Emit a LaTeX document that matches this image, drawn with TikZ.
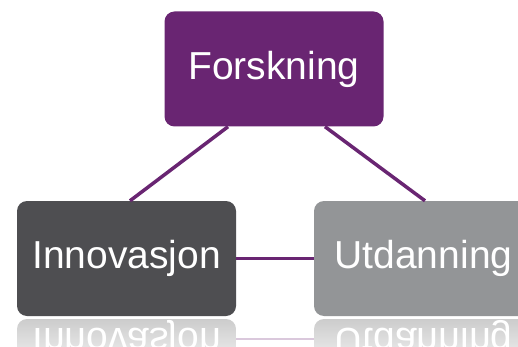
\documentclass[tikz,border=0pt]{standalone}
\usepackage{fontspec}
\setmainfont{Liberation Sans}
\usetikzlibrary{positioning,calc}
\definecolor{forskpurple}{HTML}{692572}
\definecolor{innovgray}{HTML}{4E4E51}
\definecolor{utdgray}{HTML}{939597}
\tikzset{
  box/.style={rounded corners=10pt,minimum width=219pt,minimum height=115pt,
    text=white,font=\fontsize{39}{42}\selectfont,inner sep=0pt},
  link/.style={draw=forskpurple,line width=3.5pt},
  mirror/.style={yscale=-1,anchor=base,text=white,font=\fontsize{39}{42}\selectfont,inner sep=0pt}
}
\begin{document}
\begin{tikzpicture}[x=1pt,y=-1pt]
 \useasboundingbox (0,0) rectangle (518,347);
 \clip (0,0) rectangle (518,347);
 \fill[white] (0,0) rectangle (518,347);
 \shade[top color=black!20,bottom color=white,rounded corners=10pt] (17,319) rectangle (236,380);
 \shade[top color=black!20,bottom color=white,rounded corners=10pt] (314,319) rectangle (533,380);
 \draw[forskpurple!25,line width=2pt] (236,339) -- (314,339);
 \node[mirror] (innovrefl) at (126.5,328) {Innovasjon};
 \node[mirror] (utdrefl) at (423.5,328) {Utdanning};
 \node[box,fill=forskpurple] (forsk) at (274,69) {Forskning};
 \node[box,fill=innovgray] (innov) at (126.5,258.5) {Innovasjon};
 \node[box,fill=utdgray] (utd) at (423.5,258.5) {Utdanning};
 \draw[link] ($(forsk.south)+(-46,0)$) -- ($(innov.north)+(3.5,0)$);
 \draw[link] ($(forsk.south)+(51,0)$) -- ($(utd.north)+(1.5,0)$);
 \draw[link] (innov.east) -- (utd.west);
\end{tikzpicture}
\end{document}
